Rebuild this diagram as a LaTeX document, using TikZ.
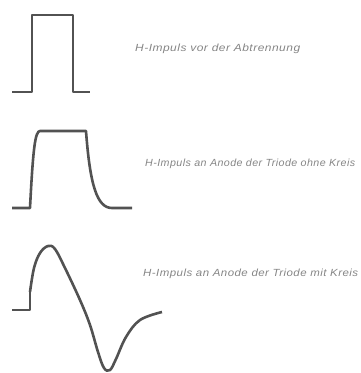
\documentclass[tikz,border=0pt]{standalone}
\usepackage{fontspec}
\setmainfont{Liberation Sans}[LetterSpace=4]
\begin{document}
\begin{tikzpicture}[x=1pt,y=-1pt,
  wave/.style={draw=black!68,line width=2.6pt,line join=round},
  captext/.style={anchor=west,inner sep=0pt,text=black!48,font=\fontsize{7.5}{9}\selectfont\itshape}]
\useasboundingbox (0,0) rectangle (360,373);
% pulse 1
\draw[wave] (12,92) -- (32,92) -- (32,15) -- (73,15) -- (73,92) -- (90,92);
% pulse 2
\draw[wave] (12,208) -- (30,208) .. controls (33,150) and (35,131) .. (40,131) -- (86,131)
  .. controls (90,185) and (97,208) .. (112,208) -- (132,208);
% pulse 3
\draw[wave] (12,310) -- (30,310) -- (30,290);
\draw[wave] plot[smooth,tension=0.6] coordinates {(30,292) (34,268) (40,253) (48,246) (55,249) (65,268) (80,300) (90,325) (98,352) (104,368) (110,370) (116,359) (126,337) (140,320) (162,312)};
% captions
\node[captext] (t1) at (135,49) {\resizebox{165pt}{7.5pt}{H-Impuls vor der Abtrennung}};
\node[captext] (t2) at (145,164) {\resizebox{210pt}{7.5pt}{H-Impuls an Anode der Triode ohne Kreis}};
\node[captext] (t3) at (143,274) {\resizebox{215pt}{7.5pt}{H-Impuls an Anode der Triode mit Kreis}};
\end{tikzpicture}
\end{document}
